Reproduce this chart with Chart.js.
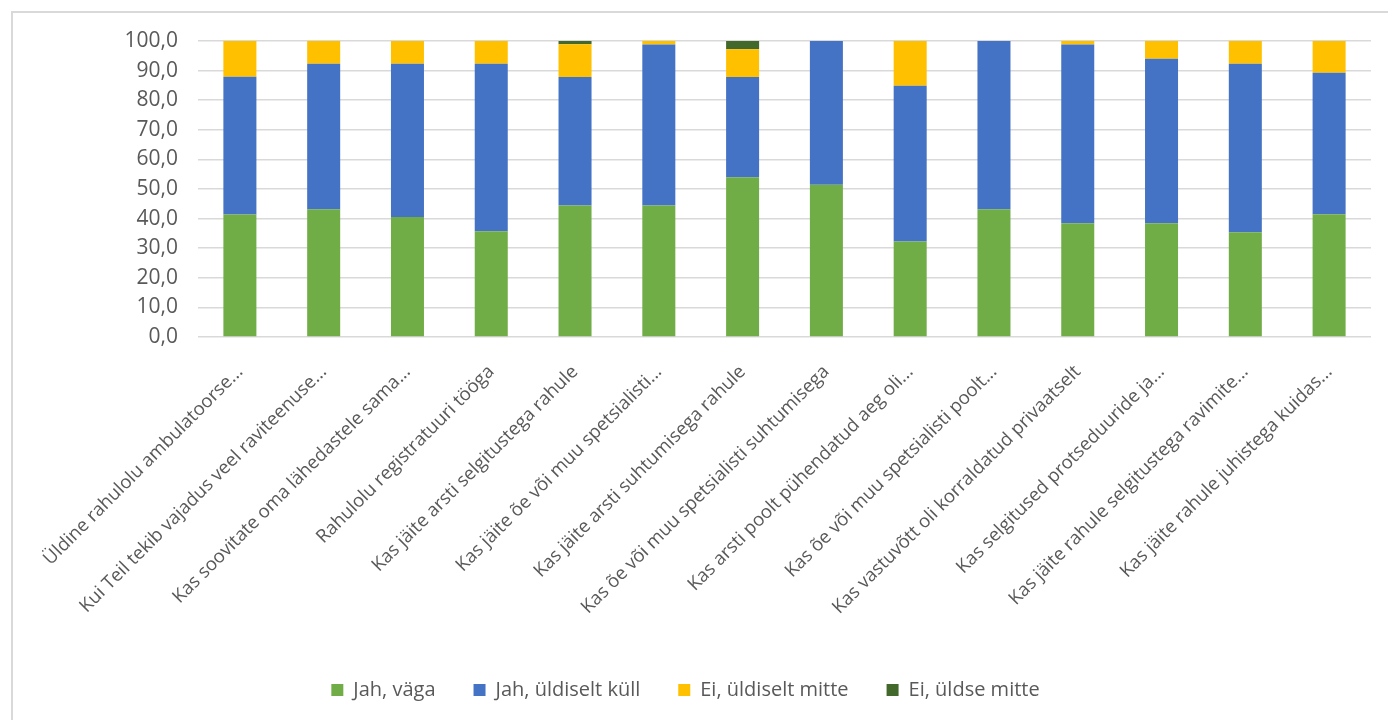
<!DOCTYPE html>
<html lang="et">
<head>
<meta charset="utf-8">
<title>Rahulolu</title>
<script src="https://cdn.jsdelivr.net/npm/chart.js@4.4.1/dist/chart.umd.min.js"></script>
<style>
    body { margin: 0; background: #ffffff; }
    .diagram-container { position: relative; width: 1388px; height: 720px; overflow: hidden; }
    .ram { position: absolute; left: 11px; top: 11px; width: 1400px; height: 740px; border: 2px solid #d9d9d9; box-sizing: border-box; }
    canvas { position: absolute; left: 0; top: 0; }
</style>
</head>
<body>
<div class="diagram-container">
    <div class="ram"></div>
    <canvas id="mittDiagram" width="1388" height="720"></canvas>
</div>
<script>
// Kategorier (förkortade som i originalet)
const kategorier = [
    'Üldine rahulolu ambulatoorse...',
    'Kui Teil tekib vajadus veel raviteenuse...',
    'Kas soovitate oma lähedastele sama...',
    'Rahulolu registratuuri tööga',
    'Kas jäite arsti selgitustega rahule',
    'Kas jäite õe või muu spetsialisti...',
    'Kas jäite arsti suhtumisega rahule',
    'Kas õe või muu spetsialisti suhtumisega',
    'Kas arsti poolt pühendatud aeg oli...',
    'Kas õe või muu spetsialisti poolt...',
    'Kas vastuvõtt oli korraldatud privaatselt',
    'Kas selgitused protseduuride ja...',
    'Kas jäite rahule selgitustega ravimite...',
    'Kas jäite rahule juhistega kuidas...'
];

// Serier (procent)
const jahVaga = [41.4, 43.2, 40.5, 35.7, 44.4, 44.4, 54.0, 51.4, 32.3, 43.2, 38.4, 38.4, 35.4, 41.5];
const jahUldiseltKull = [46.5, 49.1, 51.8, 56.6, 43.4, 54.4, 33.8, 48.6, 52.6, 56.8, 60.4, 55.6, 56.9, 47.8];
const eiUldiseltMitte = [12.1, 7.7, 7.7, 7.7, 11.1, 1.2, 9.4, 0, 15.1, 0, 1.2, 6.0, 7.7, 10.7];
const eiUldseMitte = [0, 0, 0, 0, 1.1, 0, 2.8, 0, 0, 0, 0, 0, 0, 0];

// Y-axelns gränser
const yMin = 0;
const yMax = 100;
const ySteg = 10;

const textFarg = '#595959';
const rutnatFarg = '#d9d9d9';
const typsnitt = "'Open Sans', 'Liberation Sans', sans-serif";

const MittDiagram = {};

MittDiagram.data = {
    labels: kategorier,
    datasets: [
        { label: 'Jah, väga', data: jahVaga, backgroundColor: '#70ad47' },
        { label: 'Jah, üldiselt küll', data: jahUldiseltKull, backgroundColor: '#4472c4' },
        { label: 'Ei, üldiselt mitte', data: eiUldiseltMitte, backgroundColor: '#ffc000' },
        { label: 'Ei, üldse mitte', data: eiUldseMitte, backgroundColor: '#43682b' }
    ]
};

MittDiagram.ctx = document.getElementById('mittDiagram').getContext('2d');

MittDiagram.diagram = new Chart(MittDiagram.ctx, {
    type: 'bar',
    data: MittDiagram.data,
    options: {
        responsive: false,
        animation: false,
        datasets: {
            bar: { categoryPercentage: 1, barPercentage: 0.394, borderWidth: 0 }
        },
        layout: { padding: { left: 0, right: 17, top: 41, bottom: 10 } },
        plugins: {
            tooltip: { enabled: false },
            legend: {
                position: 'bottom',
                labels: {
                    color: textFarg,
                    font: { family: typsnitt, size: 20 },
                    boxWidth: 12,
                    boxHeight: 12,
                    padding: 38
                }
            }
        },
        scales: {
            x: {
                stacked: true,
                grid: { display: false },
                border: { display: false },
                ticks: {
                    autoSkip: false,
                    minRotation: 45,
                    maxRotation: 45,
                    padding: 16,
                    color: textFarg,
                    font: { family: typsnitt, size: 18.5 }
                },
                afterFit: (skala) => { skala.height = 305; }
            },
            y: {
                stacked: true,
                min: yMin,
                max: yMax,
                grid: { color: rutnatFarg, lineWidth: 1.5, drawTicks: false },
                border: { display: false },
                ticks: {
                    stepSize: ySteg,
                    padding: 20,
                    color: textFarg,
                    font: { family: typsnitt, size: 21 },
                    callback: (v) => v.toFixed(1).replace('.', ',')
                },
                afterFit: (skala) => { skala.width = 198; }
            }
        }
    }
});
</script>
</body>
</html>
